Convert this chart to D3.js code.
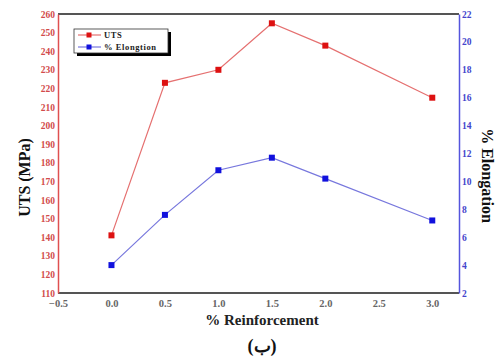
<!DOCTYPE html>
<html>
<head>
<meta charset="utf-8">
<script src="https://cdn.jsdelivr.net/npm/d3@7/dist/d3.min.js"></script>
<style>
  html, body { margin: 0; padding: 0; background: #fff; }
  svg { display: block; }
  svg text { font-family: "Liberation Serif", "Times New Roman", "DejaVu Serif", serif !important; font-weight: bold; }
</style>
</head>
<body>
<svg id="chart" width="496" height="358"></svg>
<script>
// Reinforcement content (%)
const reinforcement = [0.0, 0.5, 1.0, 1.5, 2.0, 3.0];
// Ultimate tensile strength (MPa)
const uts = [141, 223, 230, 255, 243, 215];
// Elongation (%)
const elongation = [4.0, 7.6, 10.8, 11.7, 10.2, 7.2];

const xTicks = [-0.5, 0.0, 0.5, 1.0, 1.5, 2.0, 2.5, 3.0];
const utsTicks = d3.range(110, 261, 10);
const elongTicks = d3.range(2, 23, 2);

const seriesNames = ["UTS", "% Elongtion"];

const svg = d3.select("#chart");
const plotL = 58, plotR = 459, plotT = 14, plotB = 293;

const x = d3.scaleLinear().domain([-0.5, 3.25]).range([plotL, plotR]);
const yL = d3.scaleLinear().domain([110, 260]).range([plotB, plotT]);
const yR = d3.scaleLinear().domain([2, 22]).range([plotB, plotT]);

const red = "#dd1111", redLine = "#e57070", redText = "#d24a4a";
const blue = "#1111dd", blueLine = "#7777dd", blueText = "#4444cc";

// top border
svg.append("line").attr("x1", plotL).attr("x2", plotR).attr("y1", plotT).attr("y2", plotT)
  .attr("stroke", "#555").attr("stroke-width", 2);

// bottom axis
const xAxis = svg.append("g").attr("transform", `translate(0,${plotB})`)
  .call(d3.axisBottom(x).tickValues(xTicks).tickFormat(d3.format(".1f")).tickSize(0).tickPadding(7));
xAxis.select(".domain").attr("stroke", "#555").attr("stroke-width", 2)
  .attr("d", `M${plotL},0H${plotR}`);
xAxis.selectAll("text").attr("fill", "#666").attr("font-size", 10.5);

// left axis (UTS)
const lAxis = svg.append("g").attr("transform", `translate(${plotL},0)`)
  .call(d3.axisLeft(yL).tickValues(utsTicks).tickSize(0).tickPadding(3));
lAxis.select(".domain").attr("stroke", "#e05050").attr("stroke-width", 1.5);
lAxis.selectAll("text").attr("fill", redText).attr("font-size", 9.5);

// right axis (elongation)
const rAxis = svg.append("g").attr("transform", `translate(${plotR},0)`)
  .call(d3.axisRight(yR).tickValues(elongTicks).tickSize(0).tickPadding(3));
rAxis.select(".domain").attr("stroke", "#5555dd").attr("stroke-width", 1.5);
rAxis.selectAll("text").attr("fill", blueText).attr("font-size", 9.5);

// series
function drawSeries(vals, yScale, lineColor, markColor) {
  const pts = reinforcement.map((r, i) => [x(r), yScale(vals[i])]);
  svg.append("path").attr("d", d3.line()(pts)).attr("fill", "none")
    .attr("stroke", lineColor).attr("stroke-width", 1.2);
  svg.append("g").selectAll("rect").data(pts).join("rect")
    .attr("x", d => d[0] - 3).attr("y", d => d[1] - 3)
    .attr("width", 6).attr("height", 6).attr("fill", markColor);
}
drawSeries(uts, yL, redLine, red);
drawSeries(elongation, yR, blueLine, blue);

// legend
const lg = svg.append("g");
lg.append("rect").attr("x", 77).attr("y", 32).attr("width", 94).attr("height", 24).attr("fill", "#000");
lg.append("rect").attr("x", 74).attr("y", 29).attr("width", 94).attr("height", 24)
  .attr("fill", "#fff").attr("stroke", "#333").attr("stroke-width", 0.8);
[[redLine, red], [blueLine, blue]].forEach((c, i) => {
  const yy = 35 + i * 12;
  lg.append("line").attr("x1", 78).attr("x2", 101).attr("y1", yy).attr("y2", yy)
    .attr("stroke", c[0]).attr("stroke-width", 1.2);
  lg.append("rect").attr("x", 86.5).attr("y", yy - 2.5).attr("width", 5).attr("height", 5).attr("fill", c[1]);
  lg.append("text").attr("x", 104).attr("y", yy + 3).attr("font-size", 8.5).attr("fill", "#222")
    .attr("letter-spacing", 0.6).text(seriesNames[i]);
});

// axis titles
svg.append("text").attr("transform", `translate(30,${(plotT + plotB) / 2 + 24}) rotate(-90)`)
  .attr("text-anchor", "middle").attr("font-size", 16).attr("fill", "#111").text("UTS (MPa)");
svg.append("text").attr("transform", `translate(482,${(plotT + plotB) / 2 + 22}) rotate(90)`)
  .attr("text-anchor", "middle").attr("font-size", 16).attr("fill", "#111").text("% Elongation");
svg.append("text").attr("x", 262).attr("y", 325).attr("text-anchor", "middle")
  .attr("font-size", 15).attr("fill", "#222").text("% Reinforcement");
svg.append("text").attr("x", 262).attr("y", 352).attr("text-anchor", "middle")
  .attr("font-size", 18).attr("fill", "#111").text("(ب)");
</script>
</body>
</html>
